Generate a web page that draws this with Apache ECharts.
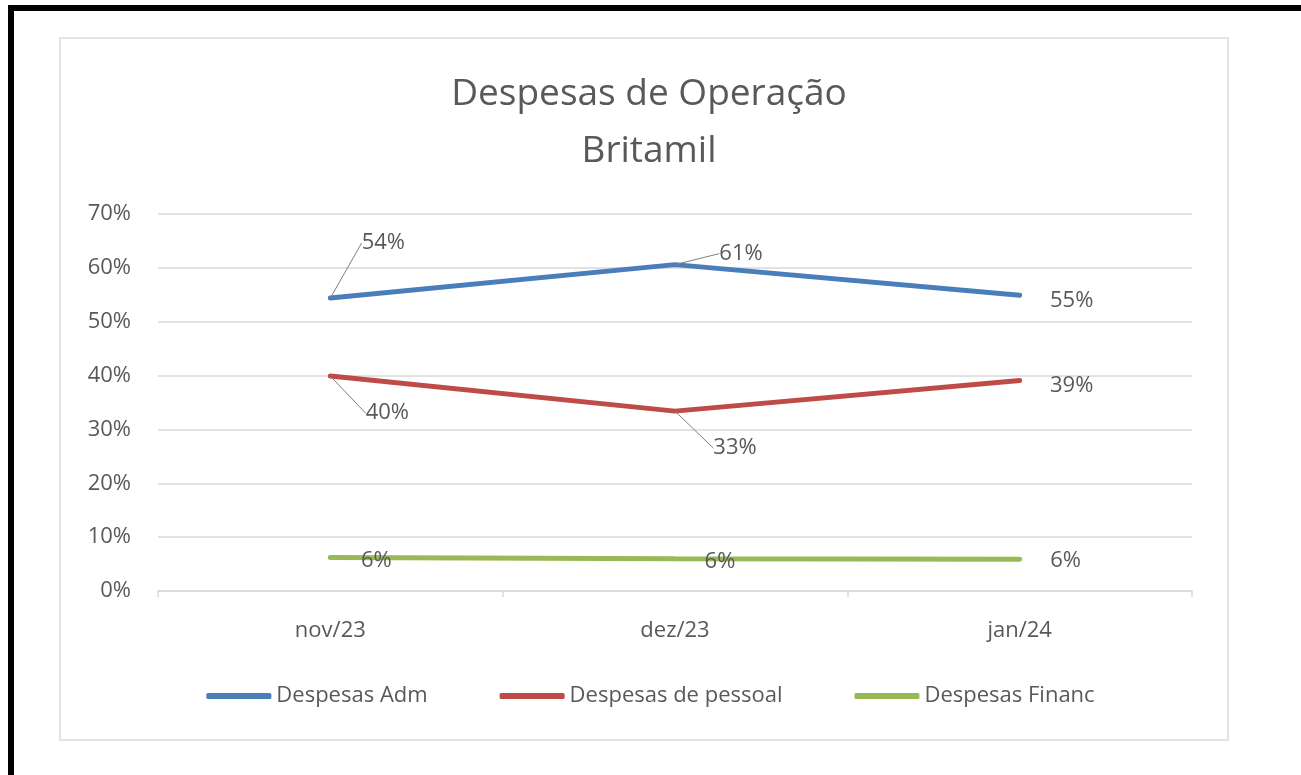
<!DOCTYPE html>
<html>
<head>
<meta charset="utf-8">
<title>Despesas de Operação - Britamil</title>
<script src="https://cdn.jsdelivr.net/npm/echarts@6/dist/echarts.min.js"></script>
<style>
  html, body { margin: 0; padding: 0; background: #fff; }
  #chart { width: 1301px; height: 775px; }
</style>
</head>
<body>
<div id="chart"></div>
<script>
const categories = ["nov/23", "dez/23", "jan/24"];
const despesasAdm = [54.4, 60.6, 54.9];
const despesasPessoal = [39.9, 33.4, 39.1];
const despesasFinanc = [6.2, 6.0, 5.9];
const yTicks = [0, 10, 20, 30, 40, 50, 60, 70];

const textColor = "#595959";
const gridColor = "#d9d9d9";
const font = "'Open Sans', 'Liberation Sans', sans-serif";

// label centre offsets from each point, and whether a leader line is drawn
const labelPlacement = {
  adm: [[53, -55, true], [66, -11, true], [52, 5, false]],
  pessoal: [[57, 37, true], [60, 37, true], [52, 5, false]],
  financ: [[46, 3, false], [45, 3, false], [46, 2, false]],
};

const chart = echarts.init(document.getElementById("chart"));

function makeSeries(name, values, color, key) {
  const place = labelPlacement[key];
  return {
    name,
    type: "line",
    data: values.map((v, i) => ({
      value: v,
      labelLine: { show: place[i][2] },
    })),
    symbol: "circle",
    symbolSize: 1,
    showSymbol: true,
    lineStyle: { color, width: 5, cap: "round" },
    itemStyle: { color },
    label: {
      show: true,
      formatter: (p) => Math.round(p.value) + "%",
      color: textColor,
      fontSize: 22,
      fontFamily: font,
    },
    labelLine: {
      lineStyle: { color: "#7f7f7f", width: 1 },
    },
    labelLayout: (p) => {
      const off = place[p.dataIndex];
      return {
        x: p.rect.x + p.rect.width / 2 + off[0],
        y: p.rect.y + p.rect.height / 2 + off[1],
        align: "center",
        verticalAlign: "middle",
      };
    },
    emphasis: { disabled: true },
    animation: false,
  };
}

const option = {
  backgroundColor: "#fff",
  animation: false,
  graphic: [
    { type: "rect", z: -10, shape: { x: 8, y: 5, width: 1400, height: 6 }, style: { fill: "#000" } },
    { type: "rect", z: -10, shape: { x: 8, y: 5, width: 6, height: 900 }, style: { fill: "#000" } },
    {
      type: "rect", z: -9,
      shape: { x: 60, y: 38, width: 1168, height: 702 },
      style: { fill: "#fff", stroke: "#e3e3e3", lineWidth: 2 },
    },
  ],
  title: {
    text: "Despesas de Operação\nBritamil",
    left: 644,
    top: 61,
    textAlign: "center",
    textStyle: {
      color: textColor,
      fontSize: 37,
      fontWeight: "normal",
      fontFamily: font,
      lineHeight: 57,
    },
  },
  legend: {
    top: 680,
    left: "center",
    icon: "roundRect",
    itemWidth: 65,
    itemHeight: 6,
    itemGap: 72,
    textStyle: { color: textColor, fontSize: 22, fontFamily: font },
    data: ["Despesas Adm", "Despesas de pessoal", "Despesas Financ"],
  },
  grid: { left: 158, right: 109, top: 214, bottom: 184, containLabel: false },
  xAxis: {
    type: "category",
    data: categories,
    boundaryGap: true,
    axisLine: { lineStyle: { color: gridColor, width: 1.5 } },
    axisTick: { show: true, length: 6, lineStyle: { color: gridColor, width: 1.5 } },
    axisLabel: { color: textColor, fontSize: 22, fontFamily: font, margin: 29 },
  },
  yAxis: {
    type: "value",
    min: yTicks[0],
    max: yTicks[yTicks.length - 1],
    interval: yTicks[1] - yTicks[0],
    axisLine: { show: false },
    axisTick: { show: false },
    splitLine: { lineStyle: { color: gridColor, width: 1.5 } },
    axisLabel: {
      color: textColor,
      fontSize: 22,
      fontFamily: font,
      margin: 27,
      formatter: "{value}%",
    },
  },
  series: [
    makeSeries("Despesas Adm", despesasAdm, "#4a7ebb", "adm"),
    makeSeries("Despesas de pessoal", despesasPessoal, "#be4b48", "pessoal"),
    makeSeries("Despesas Financ", despesasFinanc, "#98b954", "financ"),
  ],
};

chart.setOption(option);
</script>
</body>
</html>
